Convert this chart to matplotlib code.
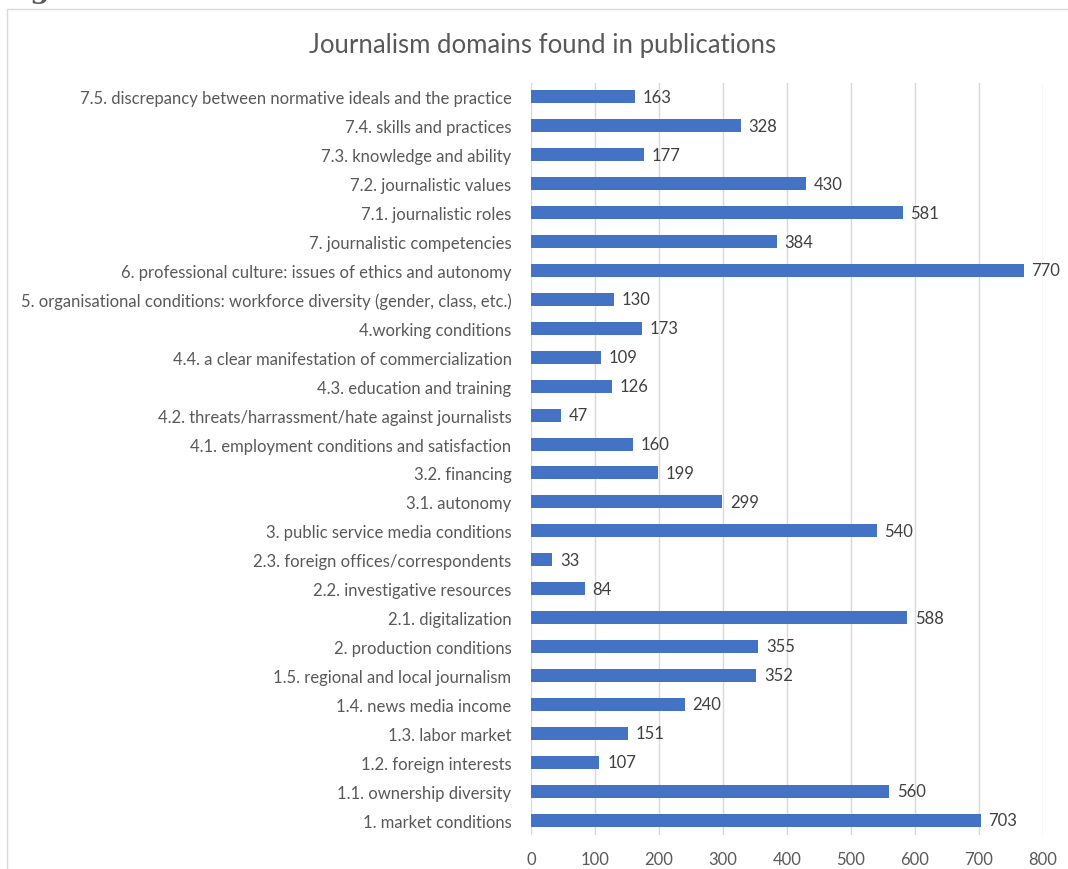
import matplotlib.pyplot as plt
from matplotlib.patches import Rectangle

labels = [
    "7.5. discrepancy between normative ideals and the practice",
    "7.4. skills and practices",
    "7.3. knowledge and ability",
    "7.2. journalistic values",
    "7.1. journalistic roles",
    "7. journalistic competencies",
    "6. professional culture: issues of ethics and autonomy",
    "5. organisational conditions: workforce diversity (gender, class, etc.)",
    "4.working conditions",
    "4.4. a clear manifestation of commercialization",
    "4.3. education and training",
    "4.2. threats/harrassment/hate against journalists",
    "4.1. employment conditions and satisfaction",
    "3.2. financing",
    "3.1. autonomy",
    "3. public service media conditions",
    "2.3. foreign offices/correspondents",
    "2.2. investigative resources",
    "2.1. digitalization",
    "2. production conditions",
    "1.5. regional and local journalism",
    "1.4. news media income",
    "1.3. labor market",
    "1.2. foreign interests",
    "1.1. ownership diversity",
    "1. market conditions",
]
values = [163, 328, 177, 430, 581, 384, 770, 130, 173, 109, 126, 47, 160,
          199, 299, 540, 33, 84, 588, 355, 352, 240, 151, 107, 560, 703]
xticks = [0, 100, 200, 300, 400, 500, 600, 700, 800]

plt.rcParams['font.family'] = ['Lato', 'DejaVu Sans']
fig = plt.figure(figsize=(10.68, 8.7), dpi=100)

# chart frame (cut off at right/bottom like the screenshot)
fig.patches.append(Rectangle((7 / 1068, -0.1), 1.2, (870 - 10) / 870 + 0.1,
                             transform=fig.transFigure, fill=False,
                             edgecolor='#D9D9D9', linewidth=1))
fig.text(0.0, 1.0 + 2 / 870, "Figure 7.", fontsize=20, fontweight='bold',
         family='DejaVu Serif', color='#595959', va='baseline', ha='left')

ax = fig.add_axes([531 / 1068, 1 - 835.5 / 870, (1043 - 531) / 1068, (835.5 - 83.5) / 870])
pos = list(range(len(labels)))[::-1]
ax.barh(pos, values, height=0.45, color='#4472C4', zorder=3)
for p, v in zip(pos, values):
    ax.text(v + 12, p, str(v), va='center', ha='left', fontsize=12,
            color='#404040', clip_on=False)

ax.set_xlim(0, 800)
ax.set_ylim(-0.5, len(labels) - 0.5)
ax.set_yticks(pos)
ax.set_yticklabels(labels, fontsize=12, color='#595959')
ax.set_xticks(xticks)
ax.set_xticklabels([str(t) for t in xticks], fontsize=12, color='#595959')
ax.tick_params(length=0, pad=12)
ax.tick_params(axis='y', pad=14)
ax.grid(axis='x', color='#D9D9D9', linewidth=1, zorder=0)
for s in ax.spines.values():
    s.set_visible(False)

fig.text(543 / 1068, 1 - 45 / 870, "Journalism domains found in publications",
         fontsize=18.5, color='#595959', ha='center', va='center')

fig.savefig('out.png', dpi=100)
